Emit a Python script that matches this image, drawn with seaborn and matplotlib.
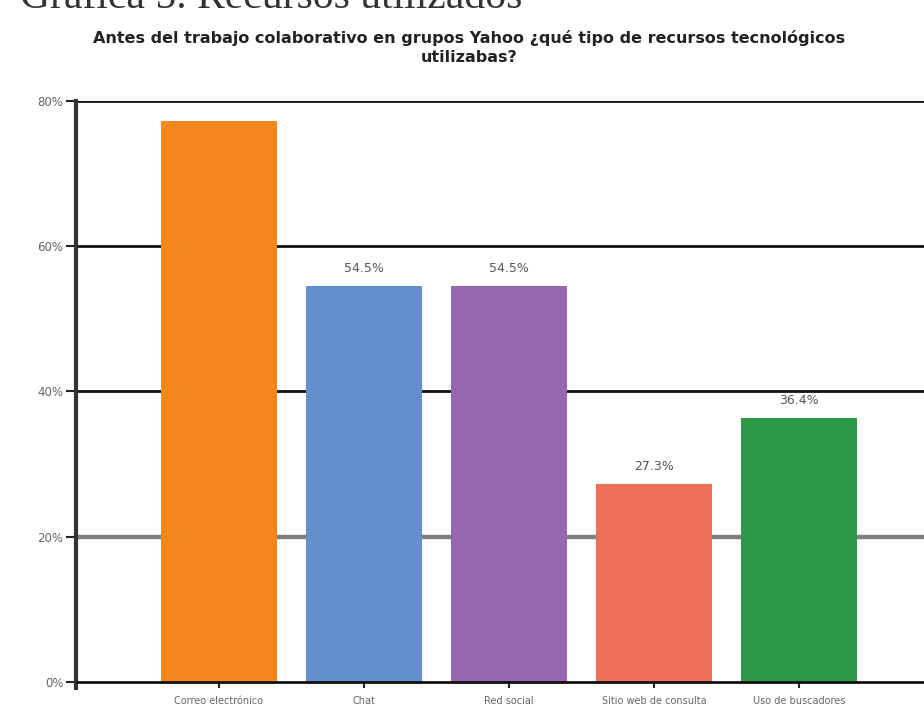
import matplotlib
matplotlib.use("Agg")
import matplotlib.pyplot as plt
import seaborn as sns
import pandas as pd

categorias = ["Correo electrónico", "Chat", "Red social", "Sitio web de consulta", "Uso de buscadores"]
porcentajes = [77.3, 54.5, 54.5, 27.3, 36.4]
etiquetas = ["", "54.5%", "54.5%", "27.3%", "36.4%"]
colores = ["#F5871F", "#6390CC", "#9467AE", "#EF7058", "#2E9A47"]
ticks_y = [0, 20, 40, 60, 80]
ticks_y_txt = ["0%", "20%", "40%", "60%", "80%"]

sns.set_theme(style="white")
plt.rcParams["font.family"] = ["DejaVu Sans"]

fig = plt.figure(figsize=(9.24, 7.12), dpi=100)
ax = fig.add_axes([76 / 924, 24 / 712, 866 / 924, (688 - 101) / 712])

df = pd.DataFrame({"cat": categorias, "pct": porcentajes})
sns.barplot(data=df, x="cat", y="pct", hue="cat", palette=colores,
            legend=False, width=0.8, saturation=1, linewidth=0, ax=ax, zorder=3)

ax.set_xlim(-0.986, 4.986)
ax.set_ylim(-0.85, 80)

# horizontal reference lines
for v in ticks_y:
    if v == 20:
        ax.axhline(v, color="#7f7f7f", lw=3.2, zorder=1)
    else:
        ax.axhline(v, color="#111111", lw=2.0, zorder=1 if v else 4)

for s in ["top", "right", "bottom"]:
    ax.spines[s].set_visible(False)
ax.spines["left"].set_color("#333333")
ax.spines["left"].set_linewidth(3)

ax.set_yticks(ticks_y)
ax.set_yticklabels(ticks_y_txt, fontsize=8.5, color="#666666")
ax.tick_params(axis="y", direction="out", length=7, width=1.5, color="#222222", pad=2, left=True)
ax.tick_params(axis="x", direction="in", length=4.5, width=1.5, color="#222222", pad=6, bottom=True)
ax.set_xticks(range(len(categorias)))
ax.set_xticklabels(categorias, fontsize=7, color="#666666")
ax.set_xlabel("")
ax.set_ylabel("")

for i, (v, t) in enumerate(zip(porcentajes, etiquetas)):
    if t:
        ax.text(i, v + 1.5, t, ha="center", va="bottom", fontsize=9, color="#555555")

fig.text(0.022, 0.989, "Gráfica 5. Recursos utilizados", fontsize=30,
         family="Liberation Serif", color="#333333", va="baseline", ha="left")
fig.text(0.508, 0.933, "Antes del trabajo colaborativo en grupos Yahoo ¿qué tipo de recursos tecnológicos\nutilizabas?",
         fontsize=11.5, fontweight="bold", color="#222222", ha="center", va="center", linespacing=1.35)

fig.savefig("out.png", dpi=100)
